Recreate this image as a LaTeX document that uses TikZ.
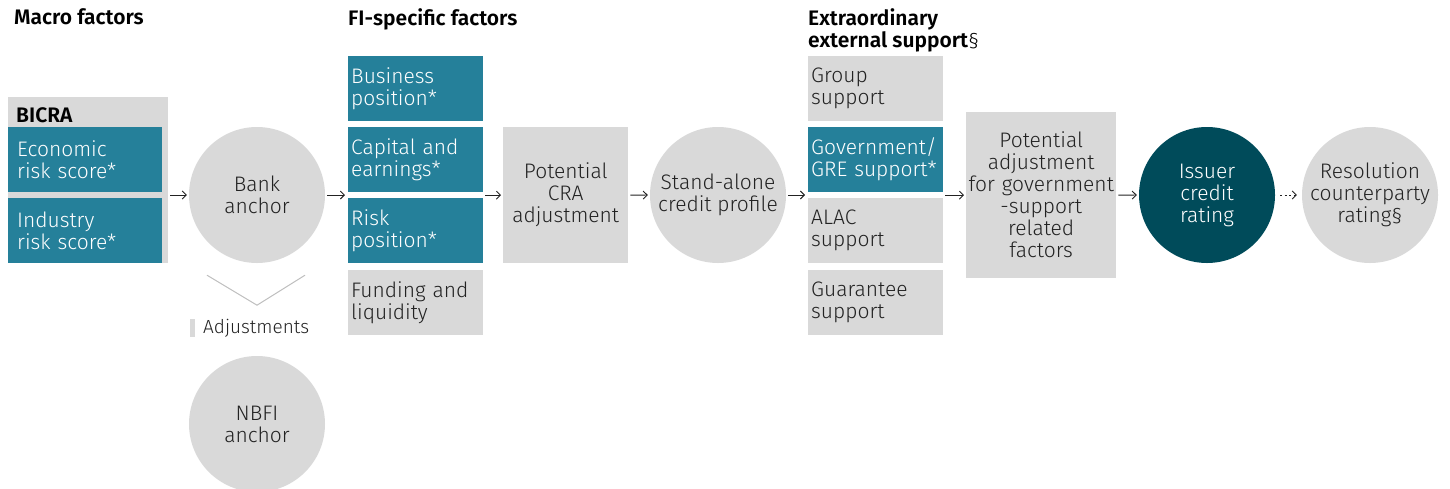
\documentclass[tikz,border=0pt]{standalone}
\usepackage{fontspec}
\setmainfont{Fira Sans Light}[BoldFont={Fira Sans SemiBold}]
\usetikzlibrary{arrows.meta,calc}
\definecolor{tealc}{HTML}{25809A}
\definecolor{greyc}{HTML}{D9D9D9}
\definecolor{darkc}{HTML}{004B5A}
\definecolor{textc}{HTML}{222222}
\begin{document}
\begin{tikzpicture}[x=1pt,y=-1pt,
  font=\fontsize{21}{22}\selectfont, text=textc,
  box/.style={align=left, inner xsep=3pt, inner ysep=0pt, text width=129pt, minimum height=65pt, anchor=north west},
  tealbox/.style={box, fill=tealc, text=white},
  greybox/.style={box, fill=greyc},
  bicrabox/.style={fill=tealc, text=white, align=left, inner xsep=9pt, inner ysep=0pt, text width=136pt, minimum height=65pt, anchor=north west},
  bigbox/.style={fill=greyc, align=center, inner sep=0pt, anchor=north west},
  circ/.style={circle, fill=greyc, minimum size=136pt, inner sep=0pt, align=center},
  head/.style={font=\fontsize{21}{22}\selectfont\bfseries, text=black, align=left, anchor=north west, inner sep=0pt},
  arr/.style={-{Straight Barb[length=4pt,width=8pt]}, line width=0.9pt, shorten >=2pt, shorten <=2pt, draw=textc},
]
\useasboundingbox (0,0) rectangle (1450,488);
% headings
\node[head] (h1) at (14,8) {Macro factors};
\node[head] (h2) at (348,8) {FI-specific factors};
\node[head] (h3) at (808,8) {Extraordinary\\external support{\mdseries§}};
% BICRA
\node[fill=greyc, minimum width=160pt, minimum height=166pt, inner sep=0pt, anchor=north west] (bicra) at (8,97) {};
\node[font=\fontsize{21}{22}\selectfont\bfseries, text=black, anchor=base west, inner sep=0pt] (bicralab) at (16,122) {BICRA};
\node[bicrabox] (econ) at (8,127) {Economic\\risk score*};
\node[bicrabox] (ind) at (8,198) {Industry\\risk score*};
% anchors
\node[circ] (bank) at (257,195) {Bank\\anchor};
\node[circ] (nbfi) at (257,424) {NBFI\\anchor};
\draw[greyc!70!gray, line width=1pt] ($(bank.south)+(-50,12)$) -- ($(bank.south)+(0,42)$) -- ($(bank.south)+(48,12)$);
\fill[greyc] (190,319) rectangle (195,337);
\node[anchor=west, inner sep=0pt, font=\fontsize{19}{20}\selectfont] (adj) at (203,328) {Adjustments};
% FI-specific
\node[tealbox] (bus) at (348,56) {Business\\position*};
\node[tealbox] (cap) at (348,127) {Capital and\\earnings*};
\node[tealbox] (risk) at (348,198) {Risk\\position*};
\node[greybox] (fund) at (348,270) {Funding and\\liquidity};
% CRA
\node[bigbox, minimum width=125pt, minimum height=136pt, text width=125pt] (cra) at (503,127) {Potential\\CRA\\adjustment};
\node[circ] (sa) at (718,195) {Stand-alone\\credit profile};
% Extraordinary
\node[greybox] (grp) at (808,56) {Group\\support};
\node[tealbox] (gov) at (808,127) {Government/\\GRE support*};
\node[greybox] (alac) at (808,198) {ALAC\\support};
\node[greybox] (guar) at (808,270) {Guarantee\\support};
\node[bigbox, minimum width=150pt, minimum height=166pt, text width=150pt] (padj) at (966,112) {Potential\\adjustment\\for government\\-support\\related\\factors};
\node[circ, fill=darkc, text=white] (iss) at (1207,195) {Issuer\\credit\\rating};
\node[circ] (res) at (1370,195) {Resolution\\counterparty\\rating§};
% arrows
\draw[arr] (bicra.east |- bank.west) -- (bank.west);
\draw[arr, shorten >=3pt] (bank.east) -- (bank.east -| cap.west);
\draw[arr] (cap.east |- cra.west) -- (cra.west);
\draw[arr] (cra.east) -- (sa.west);
\draw[arr, shorten >=3pt] (sa.east) -- (sa.east -| gov.west);
\draw[arr] (gov.east |- padj.west) -- (padj.west);
\draw[arr] (padj.east) -- (iss.west);
\draw[arr, dash pattern=on 2pt off 2.5pt, shorten <=5pt, shorten >=5pt] (iss.east) -- (res.west);
\end{tikzpicture}
\end{document}
